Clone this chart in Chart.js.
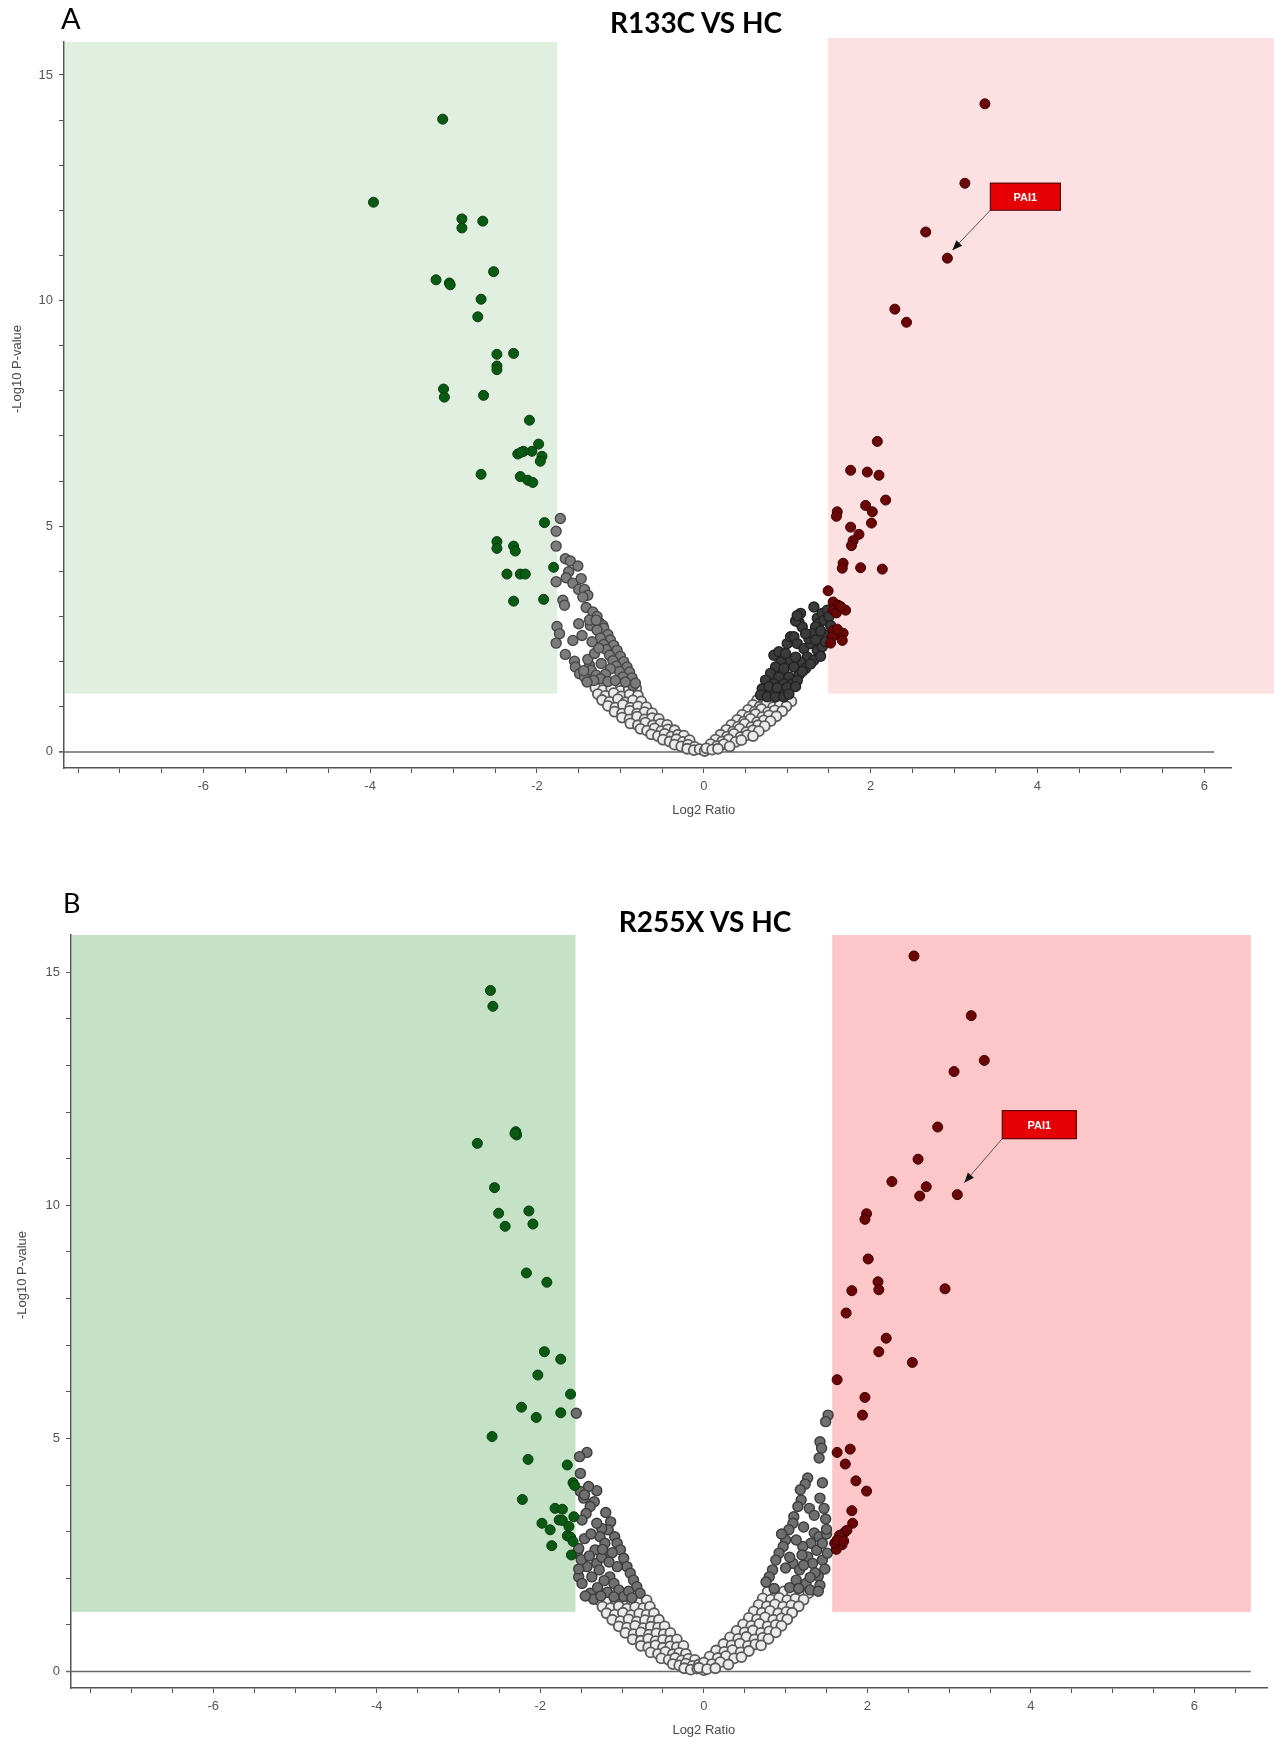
<!DOCTYPE html>
<html>
<head>
<meta charset="utf-8">
<script src="https://cdn.jsdelivr.net/npm/chart.js@4.4.1/dist/chart.umd.min.js"></script>
<style>
  body { margin: 0; background: #fff; width: 1274px; height: 1743px; position: relative; overflow: hidden; }
  .wrap { position: absolute; left: 0; width: 1274px; }
  .txt { position: absolute; font-family: Lato, "Liberation Sans", sans-serif; line-height: 1; color: #000; white-space: nowrap; z-index: 2; }
  .ttl { font-weight: bold; font-size: 28px; transform: translateX(-50%); }
</style>
</head>
<body>
<div class="txt" style="left:61px; top:3px; font-size:29px;">A</div>
<div class="txt ttl" style="left:696px; top:8px;">R133C VS HC</div>
<div class="txt" style="left:63px; top:889px; font-size:27px;">B</div>
<div class="txt ttl" style="left:705px; top:907px;">R255X VS HC</div>
<div class="wrap" style="top:0; height:830px;"><canvas id="chartA" width="1274" height="830"></canvas></div>
<div class="wrap" style="top:880px; height:863px;"><canvas id="chartB" width="1274" height="863"></canvas></div>
<script>
// tick labels
const xTickLabels = [-6, -4, -2, 0, 2, 4, 6];
const yTickLabels = [0, 5, 10, 15];

// ---- panel A : R133C vs HC  (x = log2 ratio, y = -log10 p) ----
const aDown = [[-3.13,14.02],[-3.96,12.18],[-2.90,11.81],[-2.90,11.61],[-2.65,11.76],[-2.52,10.64],[-3.21,10.46],
  [-3.05,10.39],[-3.04,10.35],[-2.67,10.03],[-2.71,9.64],[-2.48,8.81],[-2.28,8.83],[-2.48,8.55],[-2.48,8.47],
  [-3.12,8.04],[-3.11,7.86],[-2.64,7.90],[-2.09,7.35],[-1.98,6.82],[-2.06,6.66],[-2.16,6.66],[-2.23,6.60],
  [-2.19,6.64],[-1.94,6.55],[-1.96,6.44],[-2.67,6.15],[-2.20,6.10],[-2.11,6.02],[-2.05,5.97],[-1.91,5.08],
  [-2.48,4.66],[-2.48,4.51],[-2.28,4.56],[-2.26,4.45],[-2.36,3.94],[-2.20,3.94],[-2.14,3.94],[-1.80,4.09],
  [-2.28,3.34],[-1.92,3.38]];
const aUp = [[3.37,14.36],[3.13,12.60],[2.66,11.52],[2.92,10.94],[2.29,9.81],[2.43,9.52],[2.08,6.88],[1.76,6.24],
  [1.96,6.20],[2.10,6.13],[2.18,5.58],[1.60,5.32],[1.59,5.22],[1.94,5.46],[2.02,5.32],[2.01,5.07],[1.76,4.98],
  [1.86,4.82],[1.79,4.68],[1.77,4.57],[1.67,4.18],[1.66,4.07],[1.88,4.08],[2.14,4.05],[1.49,3.57],[1.55,3.32],
  [1.61,3.25],[1.55,3.14],[1.70,3.14],[1.59,3.08],[1.64,3.22],[1.55,2.69],[1.61,2.63],[1.67,2.63],[1.66,2.47],
  [1.54,2.55],[1.52,2.41],[1.60,2.72]];
const aPai1 = [2.92, 10.94];
const aLeftNs = [[-1.72,5.17],[-1.77,4.89],[-1.77,4.56],[-1.66,4.28],[-1.60,4.23],[-1.51,4.12],[-1.62,3.99],
  [-1.65,3.86],[-1.57,3.74],[-1.47,3.84],[-1.77,3.77],[-1.50,3.60],[-1.43,3.60],[-1.39,3.47],[-1.45,3.43],
  [-1.69,3.36],[-1.67,3.25],[-1.41,3.20],[-1.35,2.95],[-1.31,2.92],[-1.25,2.86],[-1.21,2.80],[-1.36,2.80],
  [-1.23,2.66],[-1.19,2.55],[-1.16,2.43],[-1.13,2.32],[-1.09,2.21],[-1.05,2.10],[-1.01,1.96],[-0.97,1.84],
  [-0.93,1.73],[-0.89,1.62],[-0.85,1.47],[-1.76,2.78],[-1.73,2.62],[-1.77,2.41],[-1.50,2.84],[-1.46,2.58],
  [-1.57,2.47],[-1.66,2.16],[-1.55,2.01],[-1.54,1.88],[-1.49,1.73],[-1.43,1.66],[-1.37,1.92],[-1.35,1.81],
  [-1.23,1.96],[-1.29,1.70],[-1.20,2.74],[-1.28,2.70],[-1.15,2.60],[-1.24,2.52],[-1.12,2.48],[-1.20,2.38],
  [-1.08,2.36],[-1.17,2.27],[-1.04,2.25],[-1.13,2.14],[-1.00,2.12],[-1.09,2.02],[-0.96,2.00],[-1.05,1.90],
  [-0.92,1.88],[-1.01,1.78],[-0.89,1.77],[-0.97,1.66],[-0.86,1.64],[-0.94,1.55],[-0.82,1.52],[-1.12,1.84],
  [-1.18,1.72],[-1.24,1.62],[-1.32,1.58],[-1.40,1.55],[-1.15,1.56],[-1.06,1.58],[-1.33,3.10],[-1.28,3.00],
  [-1.37,2.92],[-1.29,2.92],[-1.44,1.80],[-1.39,2.05],[-1.31,2.18],[-1.26,2.30],[-1.34,2.44]];
const aRightNs = [[1.32,3.21],[1.16,3.07],[1.14,2.88],[1.18,2.77],[1.36,2.96],[1.42,3.07],[1.48,3.14],[1.38,2.84],
  [1.44,2.92],[1.34,2.77],[1.46,2.59],[1.50,3.00],[1.52,2.80],[1.00,2.40],[1.04,2.55],[1.08,2.55],[1.12,2.40],
  [1.20,2.29],[1.28,2.40],[1.36,2.25],[1.42,2.33],[1.26,2.51],[1.30,2.62],[1.22,2.62],[1.34,2.48],[1.24,2.10],
  [1.32,2.03],[1.16,1.99],[1.04,2.03],[0.92,1.99],[0.84,2.14],[0.90,2.22],[0.98,2.18],[0.86,1.88],[0.96,1.85],
  [1.08,1.88],[1.22,1.85],[0.80,1.74],[0.90,1.66],[1.02,1.66],[1.14,1.70],[0.74,1.59],[0.84,1.51],[0.96,1.51],
  [1.06,1.51],[0.70,1.40],[0.80,1.33],[0.92,1.33],[1.02,1.37],[0.68,1.26],[0.76,1.22],[0.86,1.22],[0.96,1.22],
  [1.12,1.58],[1.18,1.78],[1.28,1.95],[1.40,2.12],[1.10,2.10],[0.78,1.45],[0.88,1.42],[1.00,1.43],[1.10,1.45],
  [1.02,1.28],[1.46,2.44],[1.40,2.68],[1.10,2.90],[1.12,3.02]];
const aLow = [[-1.30,1.42],[-1.21,1.37],[-1.11,1.41],[-1.00,1.35],[-0.90,1.39],[-0.81,1.41],
  [-1.27,1.28],[-1.18,1.24],[-1.08,1.30],[-0.99,1.23],[-0.89,1.27],[-0.79,1.25],
  [-1.22,1.15],[-1.13,1.11],[-1.03,1.17],[-0.94,1.10],[-0.85,1.14],[-0.75,1.12],
  [-1.15,1.02],[-1.06,0.98],[-0.97,1.04],[-0.88,0.98],[-0.79,1.01],[-0.69,0.99],
  [-1.07,0.89],[-0.98,0.85],[-0.89,0.91],[-0.80,0.85],[-0.71,0.88],[-0.62,0.86],
  [-0.98,0.76],[-0.89,0.72],[-0.80,0.78],[-0.71,0.72],[-0.62,0.75],[-0.54,0.73],
  [-0.88,0.63],[-0.79,0.59],[-0.70,0.65],[-0.61,0.59],[-0.52,0.62],[-0.44,0.60],
  [-0.76,0.51],[-0.68,0.47],[-0.59,0.52],[-0.51,0.46],[-0.43,0.50],[-0.35,0.48],
  [-0.63,0.39],[-0.55,0.35],[-0.47,0.40],[-0.39,0.34],[-0.31,0.38],[-0.24,0.36],
  [-0.49,0.27],[-0.41,0.23],[-0.33,0.28],[-0.25,0.22],[-0.17,0.26],
  [-0.35,0.16],[-0.27,0.12],[-0.19,0.16],[-0.11,0.11],
  [-0.20,0.07],[-0.12,0.04],[-0.05,0.06],[0.01,0.02],
  [0.64,1.15],[0.72,1.11],[0.80,1.17],[0.88,1.10],[0.97,1.14],[1.05,1.12],
  [0.59,1.04],[0.67,1.00],[0.75,1.06],[0.83,0.99],[0.91,1.03],[0.99,1.01],
  [0.53,0.93],[0.61,0.89],[0.69,0.95],[0.77,0.88],[0.85,0.92],[0.94,0.90],
  [0.46,0.82],[0.54,0.78],[0.62,0.84],[0.70,0.77],[0.78,0.81],[0.87,0.79],
  [0.40,0.71],[0.48,0.67],[0.56,0.73],[0.64,0.66],[0.72,0.70],[0.80,0.68],
  [0.33,0.60],[0.41,0.56],[0.49,0.62],[0.57,0.55],[0.65,0.59],[0.73,0.57],
  [0.27,0.49],[0.35,0.45],[0.43,0.51],[0.51,0.44],[0.59,0.48],[0.66,0.46],
  [0.20,0.38],[0.28,0.34],[0.36,0.40],[0.44,0.33],[0.52,0.37],[0.59,0.35],
  [0.14,0.27],[0.22,0.23],[0.30,0.28],[0.38,0.22],[0.45,0.26],
  [0.08,0.17],[0.16,0.13],[0.24,0.17],[0.31,0.12],
  [0.03,0.08],[0.10,0.05],[0.17,0.07]];
const aCut = { down: -1.757, up: 1.49, p: 1.29 };

// ---- panel B : R255X vs HC ----
const bDown = [[-2.61,14.61],[-2.58,14.27],[-2.30,11.58],[-2.29,11.51],[-2.31,11.54],[-2.77,11.33],[-2.56,10.38],
  [-2.51,9.83],[-2.14,9.88],[-2.43,9.55],[-2.09,9.60],[-2.17,8.55],[-1.92,8.35],[-1.95,6.86],[-1.75,6.70],
  [-2.03,6.36],[-1.63,5.95],[-2.23,5.67],[-2.05,5.45],[-1.75,5.55],[-2.59,5.04],[-2.15,4.55],[-1.67,4.43],
  [-1.60,4.05],[-1.58,3.99],[-2.22,3.69],[-1.82,3.50],[-1.73,3.48],[-1.77,3.25],[-1.73,3.24],[-1.98,3.18],
  [-1.59,3.32],[-1.88,3.04],[-1.65,3.11],[-1.67,2.91],[-1.63,2.88],[-1.60,2.79],[-1.86,2.70],[-1.62,2.50]];
const bUp = [[2.57,15.35],[3.27,14.07],[3.43,13.11],[3.06,12.87],[2.86,11.68],[2.62,10.99],[2.30,10.51],[2.72,10.40],
  [2.64,10.20],[3.10,10.23],[1.99,9.82],[1.97,9.70],[2.01,8.85],[2.13,8.36],[2.14,8.19],[1.81,8.17],[2.95,8.21],
  [1.74,7.69],[2.23,7.15],[2.14,6.86],[2.55,6.63],[1.63,6.26],[1.97,5.88],[1.94,5.50],[1.79,4.77],[1.63,4.70],
  [1.73,4.45],[1.86,4.09],[1.99,3.87],[1.81,3.45],[1.82,3.18],[1.64,2.70],[1.66,2.78],[1.68,2.86],[1.70,2.95],
  [1.73,3.00],[1.66,2.92],[1.62,2.62],[1.69,2.72],[1.75,3.03],[1.60,2.75],[1.63,2.82],[1.71,2.80]];
const bPai1 = [3.10, 10.23];
const bLeftNs = [[-1.56,5.54],[-1.43,4.70],[-1.52,4.61],[-1.51,4.25],[-1.51,3.86],[-1.47,3.72],[-1.31,3.88],
  [-1.34,3.64],[-1.39,3.54],[-1.44,3.39],[-1.49,3.25],[-1.20,3.41],[-1.14,3.21],[-1.17,3.04],[-1.25,3.07],
  [-1.31,3.18],[-1.27,2.89],[-1.09,2.89],[-1.06,2.75],[-1.02,2.61],[-1.21,2.75],[-1.33,2.61],[-1.19,2.46],
  [-0.98,2.43],[-0.94,2.25],[-0.90,2.11],[-1.06,2.25],[-1.31,2.32],[-1.43,2.25],[-1.37,2.03],[-1.15,2.03],
  [-0.86,1.96],[-0.82,1.82],[-1.10,1.89],[-1.04,1.75],[-0.78,1.68],[-0.98,1.61],[-1.53,2.03],[-1.49,1.89],
  [-1.39,1.68],[-1.53,2.20],[-1.55,2.54],[-1.53,2.64],[-1.50,2.40],[-1.46,2.85],[-1.38,2.95],[-1.25,2.45],
  [-1.12,2.55],[-1.28,2.18],[-1.22,1.95],[-1.30,1.80],[-1.18,1.70],[-1.10,1.60],[-0.92,1.72],[-1.35,1.55],
  [-1.41,3.97],[-1.46,3.79],[-1.40,2.48],[-1.16,2.35],[-1.24,2.62],[-1.45,1.62],[-1.26,1.62],[-0.88,1.58]];
const bRightNs = [[1.52,5.50],[1.49,5.36],[1.42,4.93],[1.44,4.79],[1.41,4.58],[1.27,4.15],[1.24,4.02],[1.45,4.05],
  [1.42,3.72],[1.29,3.50],[1.19,3.68],[1.15,3.54],[1.10,3.32],[1.09,3.18],[1.04,3.04],[1.49,3.27],[1.35,2.97],
  [1.41,2.89],[1.31,2.75],[1.27,2.46],[1.21,2.68],[1.13,2.82],[1.00,2.82],[0.97,2.68],[0.92,2.54],[0.88,2.39],
  [1.09,2.32],[1.17,2.18],[1.33,2.32],[1.45,2.39],[1.51,2.54],[0.84,2.18],[0.80,2.03],[1.13,1.96],[1.25,1.89],
  [1.40,2.05],[1.48,2.20],[1.38,2.60],[1.45,2.75],[1.50,2.95],[1.05,2.45],[1.20,2.50],[1.22,3.10],[1.35,3.35],
  [1.47,3.50],[0.95,2.95],[0.76,1.92],[1.05,1.80],[1.30,1.75],[1.42,1.85],[0.86,1.78],[1.18,3.90],[1.50,3.05],
  [1.36,2.12],[1.22,2.28],[1.00,2.22],[1.30,2.02],[1.40,1.72],[1.16,1.78]];
const bLow = [[-1.28,1.53],[-1.18,1.50],[-1.08,1.54],[-0.98,1.49],[-0.88,1.52],[-0.78,1.50],[-0.70,1.53],
  [-1.24,1.39],[-1.14,1.36],[-1.04,1.40],[-0.94,1.35],[-0.84,1.38],[-0.74,1.36],[-0.66,1.39],
  [-1.19,1.25],[-1.09,1.22],[-0.99,1.26],[-0.89,1.21],[-0.79,1.24],[-0.70,1.22],[-0.61,1.25],
  [-1.12,1.11],[-1.02,1.08],[-0.92,1.12],[-0.82,1.07],[-0.72,1.10],[-0.63,1.08],[-0.55,1.11],
  [-1.04,0.97],[-0.94,0.94],[-0.84,0.98],[-0.74,0.93],[-0.65,0.96],[-0.56,0.94],[-0.48,0.97],
  [-0.96,0.83],[-0.86,0.80],[-0.77,0.84],[-0.67,0.79],[-0.58,0.82],[-0.49,0.80],[-0.41,0.83],
  [-0.87,0.69],[-0.77,0.66],[-0.68,0.70],[-0.59,0.65],[-0.50,0.68],[-0.41,0.66],[-0.33,0.69],
  [-0.77,0.55],[-0.68,0.52],[-0.59,0.56],[-0.50,0.51],[-0.41,0.54],[-0.33,0.52],[-0.25,0.55],
  [-0.65,0.41],[-0.56,0.38],[-0.47,0.42],[-0.38,0.37],[-0.30,0.40],[-0.22,0.38],
  [-0.52,0.28],[-0.43,0.25],[-0.35,0.29],[-0.27,0.24],[-0.19,0.27],[-0.11,0.25],
  [-0.38,0.16],[-0.30,0.13],[-0.22,0.17],[-0.14,0.12],[-0.06,0.15],
  [-0.24,0.07],[-0.16,0.04],[-0.08,0.06],[0.00,0.03],
  [0.78,1.71],[0.88,1.68],[0.98,1.72],[1.08,1.67],[1.18,1.70],[1.28,1.68],
  [0.72,1.57],[0.82,1.54],[0.92,1.58],[1.02,1.53],[1.12,1.56],[1.22,1.54],
  [0.67,1.43],[0.77,1.40],[0.87,1.44],[0.97,1.39],[1.07,1.42],[1.16,1.40],
  [0.61,1.29],[0.71,1.26],[0.81,1.30],[0.91,1.25],[1.01,1.28],[1.08,1.26],
  [0.55,1.15],[0.65,1.12],[0.75,1.16],[0.85,1.11],[0.95,1.14],[1.02,1.12],
  [0.48,1.01],[0.58,0.98],[0.68,1.02],[0.78,0.97],[0.88,1.00],[0.95,0.98],
  [0.40,0.87],[0.50,0.84],[0.60,0.88],[0.70,0.83],[0.80,0.86],[0.88,0.84],
  [0.32,0.73],[0.42,0.70],[0.52,0.74],[0.62,0.69],[0.72,0.72],[0.79,0.70],
  [0.24,0.59],[0.34,0.56],[0.44,0.60],[0.54,0.55],[0.63,0.58],[0.70,0.56],
  [0.15,0.45],[0.25,0.42],[0.35,0.46],[0.45,0.41],[0.55,0.44],
  [0.07,0.32],[0.17,0.29],[0.27,0.33],[0.37,0.28],[0.46,0.31],
  [0.00,0.19],[0.10,0.16],[0.20,0.20],[0.30,0.15],
  [-0.06,0.08],[0.04,0.05],[0.14,0.07]];
const bCut = { down: -1.57, up: 1.57, p: 1.28 };

const FONT = '"Liberation Sans", Arial, sans-serif';

// shaded significance boxes, zero line, PAI1 callout, axis titles
const decor = {
  id: 'decor',
  beforeDatasetsDraw(chart, args, o) {
    const { ctx, chartArea: ca, scales: { x, y } } = chart;
    const pTop = y.getPixelForValue(o.cut.p);
    ctx.save();
    ctx.fillStyle = o.downFill;
    const xd = x.getPixelForValue(o.cut.down);
    ctx.fillRect(ca.left + 1, ca.top, xd - ca.left - 1, pTop - ca.top);
    ctx.fillStyle = o.upFill;
    const xu = x.getPixelForValue(o.cut.up), xe = x.getPixelForValue(o.upEnd);
    ctx.fillRect(xu, ca.top - o.upRaise, xe - xu, pTop - ca.top + o.upRaise);
    const y0 = y.getPixelForValue(0);
    ctx.strokeStyle = '#6a6a6a';
    ctx.lineWidth = 1.5;
    ctx.beginPath();
    ctx.moveTo(ca.left - 5, y0);
    ctx.lineTo(x.getPixelForValue(o.zeroEnd), y0);
    ctx.stroke();
    ctx.restore();
  },
  afterDraw(chart, args, o) {
    const { ctx, scales: { x, y } } = chart;
    ctx.save();
    const px = x.getPixelForValue(o.mark[0]), py = y.getPixelForValue(o.mark[1]);
    const tx = px + o.tip[0], ty = py + o.tip[1];
    const bx = px + o.box[0], by = py + o.box[1];
    ctx.strokeStyle = '#555';
    ctx.lineWidth = 1;
    ctx.beginPath(); ctx.moveTo(bx, by); ctx.lineTo(tx, ty); ctx.stroke();
    const a = Math.atan2(ty - by, tx - bx);
    ctx.fillStyle = '#111';
    ctx.beginPath();
    ctx.moveTo(tx, ty);
    ctx.lineTo(tx - 10 * Math.cos(a) + 4 * Math.sin(a), ty - 10 * Math.sin(a) - 4 * Math.cos(a));
    ctx.lineTo(tx - 10 * Math.cos(a) - 4 * Math.sin(a), ty - 10 * Math.sin(a) + 4 * Math.cos(a));
    ctx.closePath();
    ctx.fill();
    ctx.fillStyle = '#e60006';
    ctx.fillRect(bx, by - o.boxH, o.boxW, o.boxH);
    ctx.strokeStyle = '#5a0000';
    ctx.lineWidth = 1.2;
    ctx.strokeRect(bx, by - o.boxH, o.boxW, o.boxH);
    ctx.fillStyle = '#fff';
    ctx.font = 'bold 11px ' + FONT;
    ctx.textAlign = 'center';
    ctx.textBaseline = 'middle';
    ctx.fillText('PAI1', bx + o.boxW / 2, by - o.boxH / 2 + 1);

    ctx.fillStyle = '#4a4a4a';
    ctx.font = '13px ' + FONT;
    ctx.fillText('Log2 Ratio', x.getPixelForValue(0), o.xTitleY);
    ctx.translate(o.yTitle[0], o.yTitle[1]);
    ctx.rotate(-Math.PI / 2);
    ctx.fillText('-Log10 P-value', 0, 0);
    ctx.restore();
  }
};

const pts = arr => arr.map(([x, y]) => ({ x, y }));

function dot(data, bg, border, bw, order) {
  return { data: pts(data), pointRadius: 5, pointBackgroundColor: bg, pointBorderColor: border,
           pointBorderWidth: bw, pointHoverRadius: 5, order };
}

function volcano(id, c) {
  return new Chart(document.getElementById(id), {
    type: 'scatter',
    data: {
      datasets: [
        dot(c.low, '#ececec', '#5a5a5a', 1.8, 4),
        dot(c.leftNs, c.leftFill, c.leftEdge, 1.4, 3),
        dot(c.rightNs, c.rightFill, c.rightEdge, 1.4, 2),
        dot(c.down, '#0b5a14', '#073d0c', 1, 1),
        dot(c.up, '#6b0606', '#3d0000', 1, 0)
      ]
    },
    options: {
      responsive: false,
      animation: false,
      devicePixelRatio: 1,
      events: [],
      layout: { padding: { left: 0, top: c.padTop, right: c.padRight, bottom: 0 } },
      plugins: {
        legend: { display: false },
        tooltip: { enabled: false },
        decor: c.decor
      },
      scales: {
        x: {
          type: 'linear', min: c.xMin, max: c.xMax,
          afterFit: s => { s.height = c.xH; },
          border: { display: true, color: '#555', width: 1.5 },
          grid: { display: true, drawOnChartArea: false, drawTicks: true, tickLength: 5, color: '#555' },
          ticks: {
            stepSize: 0.5, includeBounds: false, autoSkip: false, maxRotation: 0, padding: 6,
            color: '#555', font: { family: FONT, size: 13 },
            callback: v => (xTickLabels.includes(v) ? String(v) : '')
          }
        },
        y: {
          type: 'linear', min: c.yMin, max: c.yMax,
          afterFit: s => { s.width = c.yW; },
          border: { display: true, color: '#555', width: 1.5 },
          grid: { display: true, drawOnChartArea: false, drawTicks: true, tickLength: 5, color: '#555' },
          ticks: {
            stepSize: 1, includeBounds: false, autoSkip: false, padding: 6,
            color: '#555', font: { family: FONT, size: 13 },
            callback: v => (yTickLabels.includes(v) ? String(v) : '')
          }
        }
      }
    },
    plugins: [decor]
  });
}

volcano('chartA', {
  down: aDown, up: aUp, leftNs: aLeftNs, rightNs: aRightNs, low: aLow,
  leftFill: '#7c7c7c', leftEdge: '#474747', rightFill: '#3b3b3b', rightEdge: '#232323',
  xMin: -7.67, xMax: 6.32, yMin: -0.357, yMax: 15.73,
  padTop: 42, padRight: 43, xH: 62, yW: 64,
  decor: {
    cut: aCut, upEnd: 6.84, upRaise: 4, zeroEnd: 6.12,
    downFill: 'rgb(224,239,224)', upFill: 'rgb(253,224,226)',
    mark: aPai1, tip: [5, -8], box: [43, -48], boxW: 70, boxH: 27,
    xTitleY: 810, yTitle: [17, 369]
  }
});

volcano('chartB', {
  down: bDown, up: bUp, leftNs: bLeftNs, rightNs: bRightNs, low: bLow,
  leftFill: '#6f6f6f', leftEdge: '#3c3c3c', rightFill: '#6f6f6f', rightEdge: '#3c3c3c',
  xMin: -7.74, xMax: 6.89, yMin: -0.354, yMax: 15.80,
  padTop: 55, padRight: 0, xH: 55, yW: 71,
  decor: {
    cut: bCut, upEnd: 6.69, upRaise: 0, zeroEnd: 6.69,
    downFill: 'rgb(197,226,199)', upFill: 'rgb(253,198,201)',
    mark: bPai1, tip: [7, -12], box: [45, -56], boxW: 74, boxH: 28,
    xTitleY: 850, yTitle: [22, 395]
  }
});
</script>
</body>
</html>
